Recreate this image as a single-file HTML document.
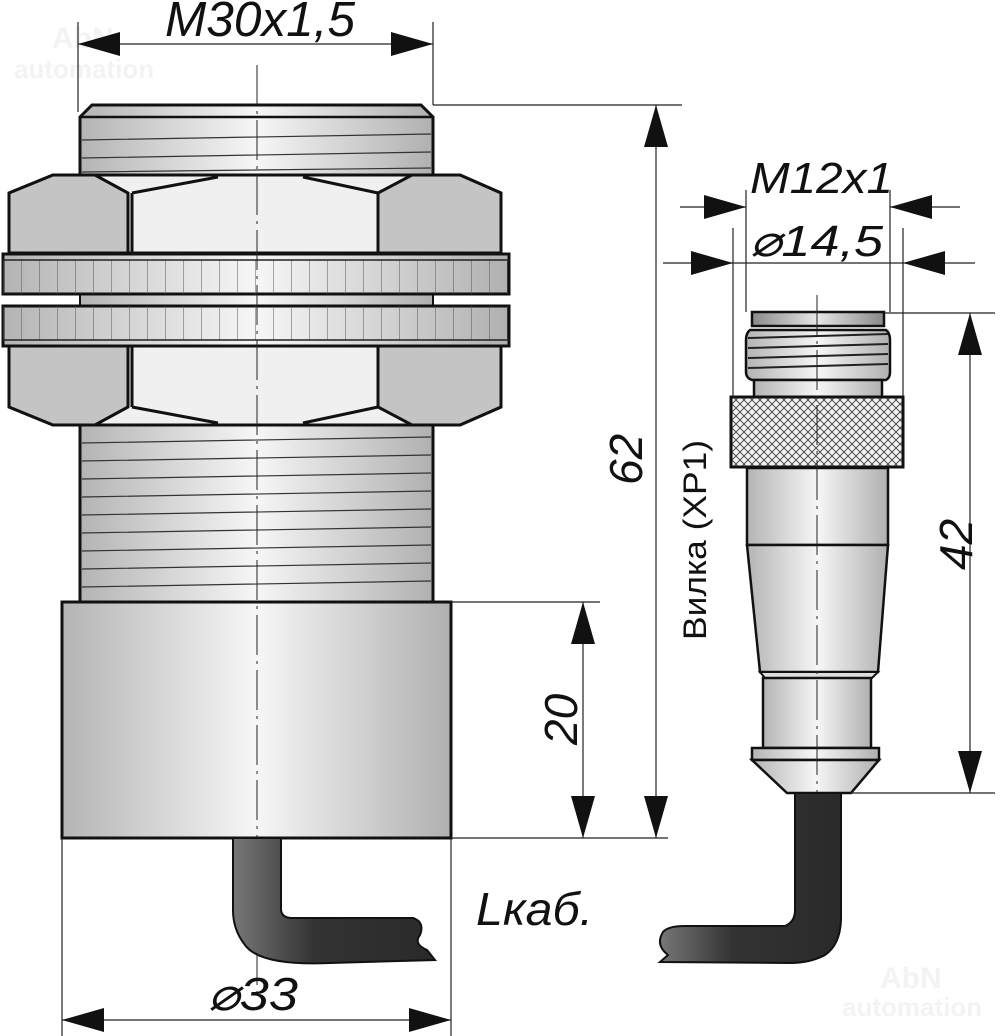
<!DOCTYPE html>
<html><head><meta charset="utf-8"><style>
html,body{margin:0;padding:0;background:#fff}
svg{display:block}
text{font-family:"Liberation Sans",sans-serif;fill:#111}
</style></head><body>
<svg width="1003" height="1036" viewBox="0 0 1003 1036" xmlns="http://www.w3.org/2000/svg">
<defs>
<linearGradient id="g" x1="0" x2="1" y1="0" y2="0">
<stop offset="0" stop-color="#b4b4b4"/><stop offset="0.5" stop-color="#f6f6f6"/><stop offset="1" stop-color="#b0b0b0"/>
</linearGradient>
<linearGradient id="gd" x1="0" x2="1"><stop offset="0" stop-color="#8a8a8a"/><stop offset="0.5" stop-color="#e6e6e6"/><stop offset="1" stop-color="#888"/></linearGradient>
<linearGradient id="cab" x1="0" x2="1"><stop offset="0" stop-color="#777"/><stop offset="0.4" stop-color="#333"/><stop offset="1" stop-color="#2a2a2a"/></linearGradient>
<pattern id="knurl" width="8" height="8" patternUnits="userSpaceOnUse">
<path d="M0 0L8 8M8 0L0 8" stroke="#333" stroke-width="0.8"/>
</pattern>
<pattern id="rib" width="18" height="50" patternUnits="userSpaceOnUse" x="3">
<path d="M0 0V50" stroke="#555" stroke-width="1"/>
</pattern>
<marker id="ar" markerWidth="42" markerHeight="26" refX="42" refY="13" orient="auto-start-reverse" markerUnits="userSpaceOnUse">
<path d="M0 1L42 13L0 25Z" fill="#111"/>
</marker>
</defs>

<!-- watermarks -->
<g font-weight="bold">
<text x="52" y="48" font-size="30" style="fill:#f3f3f3">AbN</text>
<text x="14" y="78" font-size="26" style="fill:#f3f3f3">automation</text>
<text x="880" y="988" font-size="30" style="fill:#f3f3f3">AbN</text>
<text x="842" y="1016" font-size="26" style="fill:#f3f3f3">automation</text>
</g>

<!-- top thread -->
<path d="M80 117L92 105H421L433 117V176H80Z" fill="url(#g)" stroke="#111" stroke-width="3"/>
<path d="M80 117H433" stroke="#111" stroke-width="2.5"/>
<g stroke="#333" stroke-width="1.2">
<path d="M82 140L431 134M82 158L431 152M82 172L431 168"/>
</g>
<!-- lower thread -->
<rect x="80" y="425" width="353" height="177" fill="url(#g)" stroke="#111" stroke-width="3"/>
<g stroke="#333" stroke-width="1.2">
<path d="M82 443L431 437M82 461L431 455M82 479L431 473M82 497L431 491M82 515L431 509M82 533L431 527M82 551L431 545M82 569L431 563M82 587L431 581"/>
</g>
<rect x="80" y="293" width="353" height="14" fill="url(#g)" stroke="#111" stroke-width="2"/>

<!-- upper nut -->
<path d="M9 193L53 175H460L501 193V253H9Z" fill="#f0f0f0" stroke="#111" stroke-width="3"/>
<path d="M9 193L53 175H95L128 193V253H9Z" fill="#c4c4c4" stroke="#111" stroke-width="3"/>
<path d="M378 193L412 175H460L501 193V253H378Z" fill="#c4c4c4" stroke="#111" stroke-width="3"/>
<path d="M132 193L218 177M303 177L378 193M132 193V253" stroke="#111" stroke-width="3" fill="none"/>
<!-- lower nut -->
<path d="M9 346H501V407L460 425H53L9 407Z" fill="#f0f0f0" stroke="#111" stroke-width="3"/>
<path d="M9 346H128V407L95 425H53L9 407Z" fill="#c4c4c4" stroke="#111" stroke-width="3"/>
<path d="M378 346H501V407L460 425H412L378 407Z" fill="#c4c4c4" stroke="#111" stroke-width="3"/>
<path d="M132 407L218 423M303 423L378 407M132 346V407" stroke="#111" stroke-width="3" fill="none"/>

<!-- washers -->
<rect x="3" y="254" width="506" height="40" fill="url(#g)" stroke="#111" stroke-width="3"/>
<rect x="3" y="260" width="506" height="34" fill="url(#rib)"/>
<path d="M3 260H509" stroke="#222" stroke-width="1.5"/>
<rect x="3" y="306" width="506" height="40" fill="url(#g)" stroke="#111" stroke-width="3"/>
<rect x="3" y="306" width="506" height="34" fill="url(#rib)"/>
<path d="M3 340H509" stroke="#222" stroke-width="1.5"/>

<!-- body -->
<rect x="62" y="602" width="389" height="236" fill="url(#g)" stroke="#111" stroke-width="3"/>

<!-- center line on top -->
<path d="M257 65V1000" stroke="#222" stroke-width="1" stroke-dasharray="40 6 3 6"/>

<!-- left cable -->
<path d="M233 838H281V910Q282 918 292 918H413Q425 922 420 935Q413 944 427 950L435 960L330 963Q260 966 245 945Q233 930 233 910Z" fill="url(#cab)" stroke="#111" stroke-width="2"/>

<!-- connector -->
<rect x="752" y="312" width="132" height="14" fill="url(#gd)" stroke="#111" stroke-width="2.5"/>
<path d="M750 330Q746 333 746 340V372Q746 378 752 380H886Q890 378 890 372V340Q890 333 886 330Z" fill="url(#g)" stroke="#111" stroke-width="2.5"/>
<g stroke="#222" stroke-width="2"><path d="M748 338L888 334M748 348L888 344M748 358L888 354M748 368L888 364"/></g>
<rect x="754" y="380" width="128" height="17" fill="url(#g)" stroke="#111" stroke-width="2.5"/>
<rect x="731" y="397" width="172" height="70" fill="#f2f2f2" stroke="#111" stroke-width="3"/>
<rect x="732" y="398" width="170" height="68" fill="url(#knurl)"/>
<rect x="747" y="468" width="141" height="77" fill="url(#g)" stroke="#111" stroke-width="2.5"/>
<path d="M747 545H888L878 672H760Z" fill="url(#g)" stroke="#111" stroke-width="2.5"/>
<path d="M760 672H878L872 678H765Z" fill="#ddd" stroke="#111" stroke-width="2"/>
<rect x="763" y="678" width="108" height="70" fill="url(#g)" stroke="#111" stroke-width="2.5"/>
<rect x="752" y="748" width="127" height="12" fill="url(#g)" stroke="#111" stroke-width="2.5"/>
<path d="M752 760H879L851 793H787Z" fill="url(#g)" stroke="#111" stroke-width="2.5"/>
<path d="M817 295V800" stroke="#222" stroke-width="1" stroke-dasharray="40 6 3 6"/>

<!-- right cable -->
<path d="M795 793H841V920Q840 945 825 955Q810 963 790 963L660 962L668 955Q655 945 663 932Q668 926 685 926H785Q795 922 795 910Z" fill="url(#cab)" stroke="#111" stroke-width="2"/>

<!-- dimension lines -->
<g stroke="#222" stroke-width="1.2" fill="none">
<path d="M78 22V112M433 22V105"/>
<path d="M78 44H433" marker-start="url(#ar)" marker-end="url(#ar)"/>
<path d="M433 105H682M451 838H668"/>
<path d="M656 105V838" marker-start="url(#ar)" marker-end="url(#ar)"/>
<path d="M451 602H600"/>
<path d="M583 602V838" marker-start="url(#ar)" marker-end="url(#ar)"/>
<path d="M62 838V1036M451 838V1036"/>
<path d="M62 1020H451" marker-start="url(#ar)" marker-end="url(#ar)"/>
<path d="M884 313H995M850 793H995"/>
<path d="M970 313V793" marker-start="url(#ar)" marker-end="url(#ar)"/>
<path d="M746 190V312M890 190V312"/>
<path d="M680 207H746" marker-end="url(#ar)"/>
<path d="M960 207H890" marker-end="url(#ar)"/>
<path d="M733 228V397M903 228V397"/>
<path d="M663 263H733" marker-end="url(#ar)"/>
<path d="M975 263H903" marker-end="url(#ar)"/>
<path d="M733 263H903"/>
</g>

<!-- labels -->
<g font-style="italic">
<text x="165" y="36" font-size="49" textLength="190" lengthAdjust="spacingAndGlyphs">M30x1,5</text>
<text x="750" y="193" font-size="44" textLength="143" lengthAdjust="spacingAndGlyphs">M12x1</text>
<text x="750" y="256" font-size="44" textLength="133" lengthAdjust="spacingAndGlyphs">⌀14,5</text>
<text x="476" y="925" font-size="46" textLength="117" lengthAdjust="spacingAndGlyphs">Lкаб.</text>
<text x="208" y="1010" font-size="46" textLength="90" lengthAdjust="spacingAndGlyphs">⌀33</text>
<text transform="translate(642 485) rotate(-90)" font-size="46">62</text>
<text transform="translate(577 745) rotate(-90)" font-size="46">20</text>
<text transform="translate(972 570) rotate(-90)" font-size="46">42</text>
</g>
<text transform="translate(706 640) rotate(-90)" font-size="32" textLength="200" lengthAdjust="spacingAndGlyphs">Вилка (ХР1)</text>
</svg>
</body></html>
